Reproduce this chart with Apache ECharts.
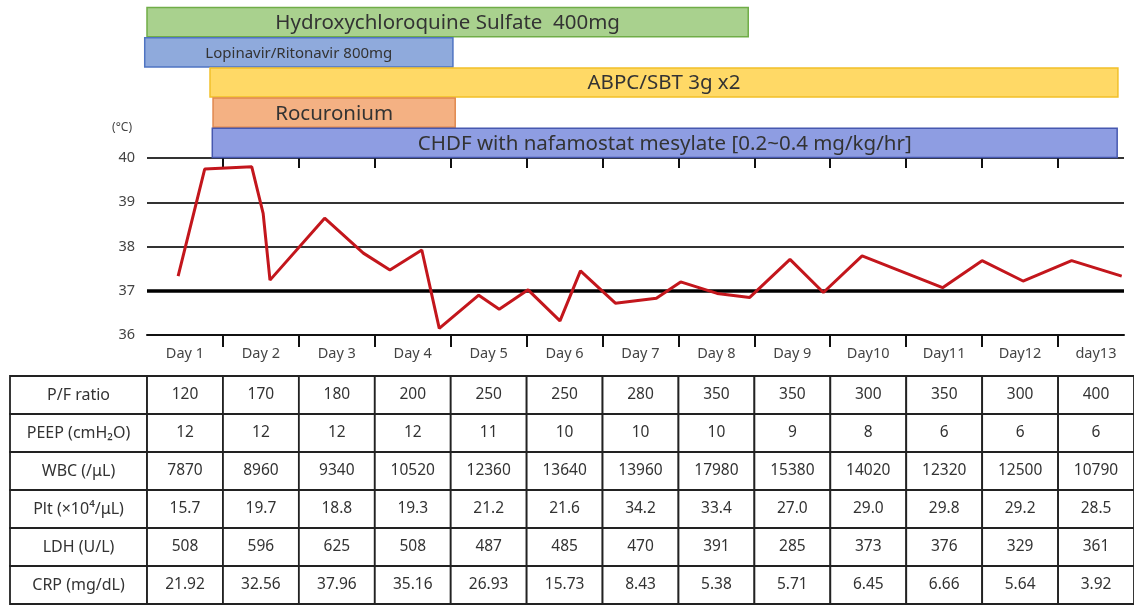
<!DOCTYPE html>
<html>
<head>
<meta charset="utf-8">
<title>Clinical course</title>
<script src="https://cdn.jsdelivr.net/npm/echarts@6/dist/echarts.min.js"></script>
<style>
  html, body { margin: 0; padding: 0; background: #fff; }
  #chart { width: 1134px; height: 606px; }
</style>
</head>
<body>
<div id="chart"></div>
<script>
// === Data ===
const dayLabels = ["Day 1", "Day 2", "Day 3", "Day 4", "Day 5", "Day 6", "Day 7",
  "Day 8", "Day 9", "Day10", "Day11", "Day12", "day13"];

// body temperature, x = days since day 1 start
const tempDay = [0.41, 0.76, 1.38, 1.53, 1.62, 2.34, 2.85, 3.20, 3.62, 3.85, 4.37, 4.64,
  5.02, 5.44, 5.71, 6.17, 6.71, 7.03, 7.51, 7.94, 8.47, 8.91, 9.42, 10.48, 11.00, 11.54,
  12.18, 12.84];
const tempC = [37.33, 39.75, 39.80, 38.75, 37.24, 38.64, 37.85, 37.47, 37.92, 36.15, 36.90,
  36.58, 37.02, 36.32, 37.45, 36.72, 36.83, 37.20, 36.94, 36.85, 37.71, 36.96, 37.79, 37.07,
  37.68, 37.22, 37.68, 37.33];

// treatments (start / end in days)
const drugNames = ["Hydroxychloroquine Sulfate  400mg", "Lopinavir/Ritonavir 800mg",
  "ABPC/SBT 3g x2", "Rocuronium", "CHDF with nafamostat mesylate [0.2~0.4 mg/kg/hr]"];
const drugStart = [0, -0.03, 0.83, 0.87, 0.86];
const drugEnd = [7.92, 4.03, 12.79, 4.06, 12.78];

const drugFill = ["#a9d18e", "#8faadc", "#ffd966", "#f4b183", "#8e9de2"];
const drugStroke = ["#70ad47", "#4f74c2", "#f2c029", "#e0884e", "#4658b0"];

// lab table
const rowLabels = ["P/F ratio", "PEEP (cmH\u2082O)", "WBC (/\u03bcL)", "Plt (\u00d710\u2074/\u03bcL)",
  "LDH (U/L)", "CRP (mg/dL)"];
const pfRatio = [120, 170, 180, 200, 250, 250, 280, 350, 350, 300, 350, 300, 400];
const peep = [12, 12, 12, 12, 11, 10, 10, 10, 9, 8, 6, 6, 6];
const wbc = [7870, 8960, 9340, 10520, 12360, 13640, 13960, 17980, 15380, 14020, 12320, 12500, 10790];
const plt = ["15.7", "19.7", "18.8", "19.3", "21.2", "21.6", "34.2", "33.4", "27.0", "29.0", "29.8", "29.2", "28.5"];
const ldh = [508, 596, 625, 508, 487, 485, 470, 391, 285, 373, 376, 329, 361];
const crp = ["21.92", "32.56", "37.96", "35.16", "26.93", "15.73", "8.43", "5.38", "5.71", "6.45", "6.66", "5.64", "3.92"];

const tableRows = [pfRatio, peep, wbc, plt, ldh, crp];

const xMax = 12.87;
const tableXMin = -1.805;
const font = "Noto Sans";
const textColor = "#333";

const dayTicks = dayLabels.slice(1).map((_, i) => i + 1);
const dayCenters = dayLabels.map((_, i) => i + 0.5);

// table cells: col -1 = row label column
const cells = [];
tableRows.forEach((vals, r) => {
  cells.push({ col: -1, row: r, text: rowLabels[r] });
  vals.forEach((v, c) => cells.push({ col: c, row: r, text: String(v) }));
});

const chart = echarts.init(document.getElementById("chart"));

const option = {
  animation: false,
  backgroundColor: "#fff",
  textStyle: { fontFamily: font },
  grid: [
    { left: 147, right: 10, top: 158, height: 177 },
    { left: 147, right: 10, top: 7, height: 151 },
    { left: 10, right: 0, top: 376, height: 228 },
  ],
  xAxis: [
    {
      type: "value", gridIndex: 0, min: 0, max: xMax,
      axisLine: { lineStyle: { color: "#111", width: 2 } },
      axisTick: { customValues: dayTicks, length: 12, lineStyle: { color: "#111", width: 2 } },
      axisLabel: {
        customValues: dayCenters, margin: 11, color: "#444", fontSize: 14.5, fontFamily: font,
        formatter: (v) => dayLabels[Math.floor(v)] || "",
      },
      splitLine: { show: false },
    },
    {
      type: "value", gridIndex: 0, min: 0, max: xMax,
      axisLine: { show: false },
      axisTick: { customValues: dayTicks, inside: true, length: 10, lineStyle: { color: "#111", width: 2 } },
      axisLabel: { show: false },
      splitLine: { show: false },
    },
    { type: "value", gridIndex: 1, min: 0, max: xMax, show: false },
    { type: "value", gridIndex: 2, min: tableXMin, max: 13, show: false },
  ],
  yAxis: [
    {
      type: "value", gridIndex: 0, min: 36, max: 40, interval: 1,
      name: "(\u00b0C)", nameGap: 24,
      nameTextStyle: { color: "#444", fontSize: 12, align: "right", padding: [0, 15, 0, 0] },
      axisLine: { show: false },
      axisTick: { show: false },
      axisLabel: { color: "#444", fontSize: 14.5, margin: 12 },
      splitLine: { lineStyle: { color: "#333", width: 2 } },
    },
    {
      // thick 37 degree reference line
      type: "value", gridIndex: 0, min: 36, max: 40, interval: 1,
      axisLine: { show: false }, axisTick: { show: false }, axisLabel: { show: false },
      splitLine: {
        lineStyle: {
          color: ["rgba(0,0,0,0)", "#000", "rgba(0,0,0,0)", "rgba(0,0,0,0)", "rgba(0,0,0,0)"],
          width: 3.5,
        },
      },
    },
    { type: "category", gridIndex: 1, data: drugNames, inverse: true, show: false },
    { type: "category", gridIndex: 2, data: rowLabels, inverse: true, show: false },
  ],
  series: [
    {
      name: "Temperature",
      type: "line",
      xAxisIndex: 0,
      yAxisIndex: 0,
      data: tempDay.map((d, i) => [d, tempC[i]]),
      symbol: "none",
      lineStyle: { color: "#c3161c", width: 3 },
      z: 5,
    },
    {
      // treatment bars
      type: "custom",
      xAxisIndex: 2,
      yAxisIndex: 2,
      data: drugNames.map((_, i) => [drugStart[i], drugEnd[i], i]),
      renderItem: (params, api) => {
        const i = params.dataIndex;
        const a = api.coord([api.value(0), api.value(2)]);
        const b = api.coord([api.value(1), api.value(2)]);
        const h = api.size([0, 1])[1];
        return {
          type: "group",
          children: [
            {
              type: "rect",
              shape: { x: a[0], y: a[1] - h / 2 + 0.5, width: b[0] - a[0], height: h - 1 },
              style: { fill: drugFill[i], stroke: drugStroke[i], lineWidth: 1.5 },
            },
            {
              type: "text",
              style: {
                text: drugNames[i],
                x: (a[0] + b[0]) / 2, y: a[1] + 1,
                align: "center", verticalAlign: "middle",
                fontSize: i === 1 ? 15 : 20.5, fontFamily: font, fill: textColor,
              },
            },
          ],
        };
      },
      z: 10,
    },
    {
      // lab table
      type: "custom",
      xAxisIndex: 3,
      yAxisIndex: 3,
      data: cells.map((c) => [c.col, c.row]),
      renderItem: (params, api) => {
        const cell = cells[params.dataIndex];
        const x0 = cell.col < 0 ? tableXMin : cell.col;
        const x1 = cell.col < 0 ? 0 : cell.col + 1;
        const a = api.coord([x0, api.value(1)]);
        const b = api.coord([x1, api.value(1)]);
        const h = api.size([0, 1])[1];
        return {
          type: "group",
          children: [
            {
              type: "rect",
              shape: { x: a[0], y: a[1] - h / 2, width: b[0] - a[0], height: h },
              style: { fill: "#fff", stroke: "#222", lineWidth: 1.8 },
            },
            {
              type: "text",
              style: {
                text: cell.text,
                x: (a[0] + b[0]) / 2, y: a[1],
                align: "center", verticalAlign: "middle",
                fontSize: cell.col < 0 ? 16 : 15.5, fontFamily: font, fill: textColor,
              },
            },
          ],
        };
      },
    },
  ],
};

chart.setOption(option);
</script>
</body>
</html>
